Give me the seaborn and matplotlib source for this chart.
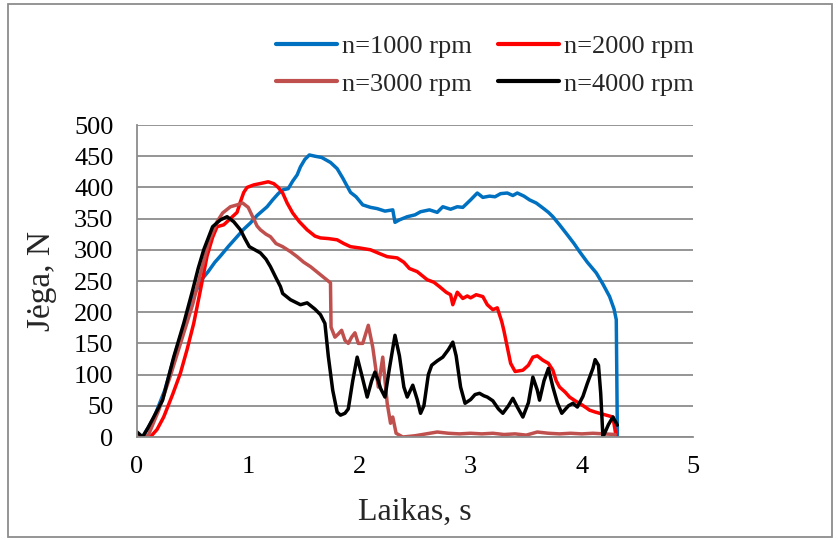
import numpy as np
import pandas as pd
import matplotlib
matplotlib.use("Agg")
import matplotlib.pyplot as plt
import seaborn as sns
from matplotlib.patches import Rectangle
from matplotlib.lines import Line2D

# ---- data ----
t_1000 = [0.0, 0.05, 0.15, 0.25, 0.35, 0.45, 0.52, 0.58, 0.64, 0.70, 0.75, 0.82, 0.90, 0.96, 1.02,
          1.08, 1.17, 1.22, 1.27, 1.31, 1.36, 1.40, 1.44, 1.47, 1.51, 1.55, 1.60, 1.66, 1.74, 1.80,
          1.85, 1.92, 1.97, 2.03, 2.10, 2.16, 2.23, 2.30, 2.32, 2.36, 2.43, 2.50, 2.55, 2.63, 2.70,
          2.75, 2.82, 2.88, 2.93, 3.00, 3.06, 3.11, 3.17, 3.22, 3.27, 3.33, 3.38, 3.42, 3.48, 3.53,
          3.59, 3.65, 3.70, 3.74, 3.80, 3.87, 3.93, 3.98, 4.05, 4.13, 4.19, 4.25, 4.29, 4.31, 4.32]
f_1000 = [0, 0, 30, 75, 138, 195, 230, 252, 265, 280, 290, 305, 321, 333, 343,
          355, 369, 380, 390, 396, 398, 410, 420, 433, 445, 452, 450, 448, 440, 430,
          415, 392, 385, 372, 368, 366, 362, 364, 344, 348, 353, 356, 361, 364, 360,
          369, 365, 369, 368, 380, 391, 384, 386, 385, 390, 391, 387, 391, 386, 380,
          375, 367, 360, 353, 340, 324, 310, 297, 280, 263, 245, 225, 205, 188, 0]

t_2000 = [0.0, 0.12, 0.18, 0.24, 0.32, 0.39, 0.45, 0.51, 0.57, 0.63, 0.68, 0.72, 0.78, 0.84, 0.90,
          0.93, 0.96, 0.99, 1.05, 1.13, 1.18, 1.23, 1.27, 1.31, 1.35, 1.40, 1.46, 1.53, 1.60, 1.65,
          1.72, 1.80, 1.86, 1.92, 2.00, 2.10, 2.18, 2.25, 2.34, 2.40, 2.45, 2.52, 2.61, 2.67, 2.72,
          2.78, 2.82, 2.84, 2.88, 2.93, 2.97, 3.00, 3.05, 3.11, 3.15, 3.20, 3.24, 3.28, 3.30, 3.33,
          3.36, 3.40, 3.47, 3.52, 3.56, 3.60, 3.65, 3.70, 3.74, 3.77, 3.80, 3.85, 3.89, 3.94, 3.98,
          4.03, 4.07, 4.12, 4.16, 4.22, 4.28, 4.30, 4.31]
f_2000 = [0, 0, 12, 32, 68, 102, 140, 182, 235, 290, 320, 337, 340, 350, 360,
          377, 392, 400, 404, 407, 409, 406, 400, 391, 375, 359, 345, 332, 322, 319,
          318, 316, 310, 305, 303, 300, 294, 289, 287, 280, 270, 265, 252, 248, 241,
          232, 228, 212, 232, 222, 226, 223, 228, 225, 212, 204, 207, 185, 170, 144,
          118, 105, 107, 115, 128, 130, 123, 118, 107, 90, 80, 72, 64, 58, 54,
          48, 43, 40, 38, 35, 32, 10, 0]

t_3000 = [0.0, 0.1, 0.2, 0.3, 0.4, 0.5, 0.58, 0.65, 0.72, 0.77, 0.84, 0.90, 0.95, 1.00, 1.04,
          1.08, 1.11, 1.16, 1.20, 1.25, 1.31, 1.38, 1.44, 1.50, 1.56, 1.65, 1.74, 1.745, 1.78, 1.81,
          1.84, 1.87, 1.90, 1.93, 1.96, 1.99, 2.03, 2.08, 2.12, 2.17, 2.21, 2.25, 2.28, 2.30, 2.33,
          2.39, 2.50, 2.60, 2.70, 2.80, 2.90, 3.00, 3.10, 3.20, 3.30, 3.40, 3.50, 3.60, 3.70, 3.80,
          3.90, 4.00, 4.10, 4.20, 4.30]
f_3000 = [0, 2, 45, 98, 155, 212, 268, 315, 345, 359, 369, 372, 375, 368, 353,
          338, 332, 325, 321, 310, 305, 297, 289, 280, 273, 260, 247, 176, 160, 165,
          171, 155, 150, 160, 167, 150, 150, 179, 144, 80, 128, 54, 22, 32, 6,
          0, 2, 5, 8, 6, 5, 6, 5, 6, 4, 5, 3, 8, 6, 5,
          6, 5, 6, 5, 4]

t_4000 = [0.0, 0.05, 0.1, 0.23, 0.33, 0.42, 0.50, 0.55, 0.60, 0.68, 0.75, 0.81, 0.87, 0.93, 0.97,
          1.01, 1.06, 1.11, 1.16, 1.20, 1.25, 1.29, 1.31, 1.38, 1.47, 1.53, 1.60, 1.65, 1.69, 1.72,
          1.76, 1.80, 1.83, 1.87, 1.90, 1.94, 1.98, 2.02, 2.07, 2.11, 2.14, 2.17, 2.19, 2.23, 2.27,
          2.32, 2.36, 2.40, 2.43, 2.48, 2.52, 2.55, 2.58, 2.62, 2.65, 2.70, 2.75, 2.80, 2.84, 2.87,
          2.91, 2.95, 3.00, 3.04, 3.08, 3.12, 3.15, 3.20, 3.25, 3.29, 3.34, 3.38, 3.42, 3.47, 3.52,
          3.56, 3.60, 3.62, 3.66, 3.70, 3.74, 3.78, 3.82, 3.88, 3.92, 3.96, 4.01, 4.05, 4.10, 4.12,
          4.15, 4.17, 4.19, 4.24, 4.28, 4.32]
f_4000 = [8, 0, 15, 59, 128, 182, 235, 270, 300, 337, 348, 353, 345, 332, 318,
          305, 300, 295, 285, 273, 255, 241, 230, 220, 212, 215, 205, 196, 182, 130,
          75, 40, 35, 38, 45, 90, 128, 100, 64, 90, 104, 90, 78, 64, 110,
          163, 130, 80, 64, 83, 60, 38, 50, 100, 115, 122, 128, 140, 152, 130,
          80, 54, 60, 68, 70, 66, 64, 58, 45, 38, 50, 62, 48, 32, 55,
          96, 75, 59, 90, 110, 80, 55, 38, 50, 54, 48, 65, 86, 110, 124,
          115, 70, 0, 20, 32, 19]

labels = ["n=1000 rpm", "n=2000 rpm", "n=3000 rpm", "n=4000 rpm"]
colors = ["#0070C0", "#FF0000", "#C0504D", "#000000"]
x_ticks = [0, 1, 2, 3, 4, 5]
y_ticks = [0, 50, 100, 150, 200, 250, 300, 350, 400, 450, 500]

frames = []
for lab, tt, ff in zip(labels, [t_1000, t_2000, t_3000, t_4000], [f_1000, f_2000, f_3000, f_4000]):
    frames.append(pd.DataFrame({"t": tt, "F": ff, "series": lab}))
df = pd.concat(frames, ignore_index=True)

sns.set_style("white")
serif = ["Liberation Serif", "DejaVu Serif"]
plt.rcParams["font.family"] = serif

fig = plt.figure(figsize=(8.38, 5.40), dpi=100)
ax = fig.add_axes([137 / 838, 1 - 437 / 540, (693 - 137) / 838, (437 - 125) / 540])

ax.set_axisbelow(True)
ax.yaxis.grid(True, color="#8c8c8c", linewidth=1.3)
ax.xaxis.grid(False)

sns.lineplot(data=df, x="t", y="F", hue="series", hue_order=labels, palette=colors,
             estimator=None, sort=False, linewidth=2.5, ax=ax, legend=False)

ax.set_xlim(0, 5)
ax.set_ylim(0, 500)
ax.set_xticks(x_ticks)
ax.set_yticks(y_ticks)
ax.tick_params(axis="both", length=0, labelsize=19, colors="black")
ax.tick_params(axis="x", pad=14)
ax.tick_params(axis="y", pad=17)
for s in ["top", "right"]:
    ax.spines[s].set_visible(False)
for s in ["left", "bottom"]:
    ax.spines[s].set_color("#8c8c8c")
    ax.spines[s].set_linewidth(1.3)

ax.set_xlabel("Laikas, s", fontsize=23, labelpad=14)
ax.set_ylabel("Jėga, N", fontsize=24, labelpad=12)

# legend: row 1 -> 1000, 2000 ; row 2 -> 3000, 4000 (matplotlib fills columns first)
order = [0, 2, 1, 3]
handles = [Line2D([0], [0], color=colors[i], linewidth=3) for i in order]
fig.legend(handles, [labels[i] for i in order], ncol=2, frameon=False, fontsize=19,
           loc="center", bbox_to_anchor=(485 / 838, 1 - 65 / 540),
           handlelength=2.3, handletextpad=0.2, columnspacing=1.0, labelspacing=0.55)

fig.patches.append(Rectangle((8 / 838, 3 / 540), 824 / 838, 533 / 540, transform=fig.transFigure,
                             fill=False, edgecolor="#8c8c8c", linewidth=1.3))

fig.savefig("out.png", dpi=100)
